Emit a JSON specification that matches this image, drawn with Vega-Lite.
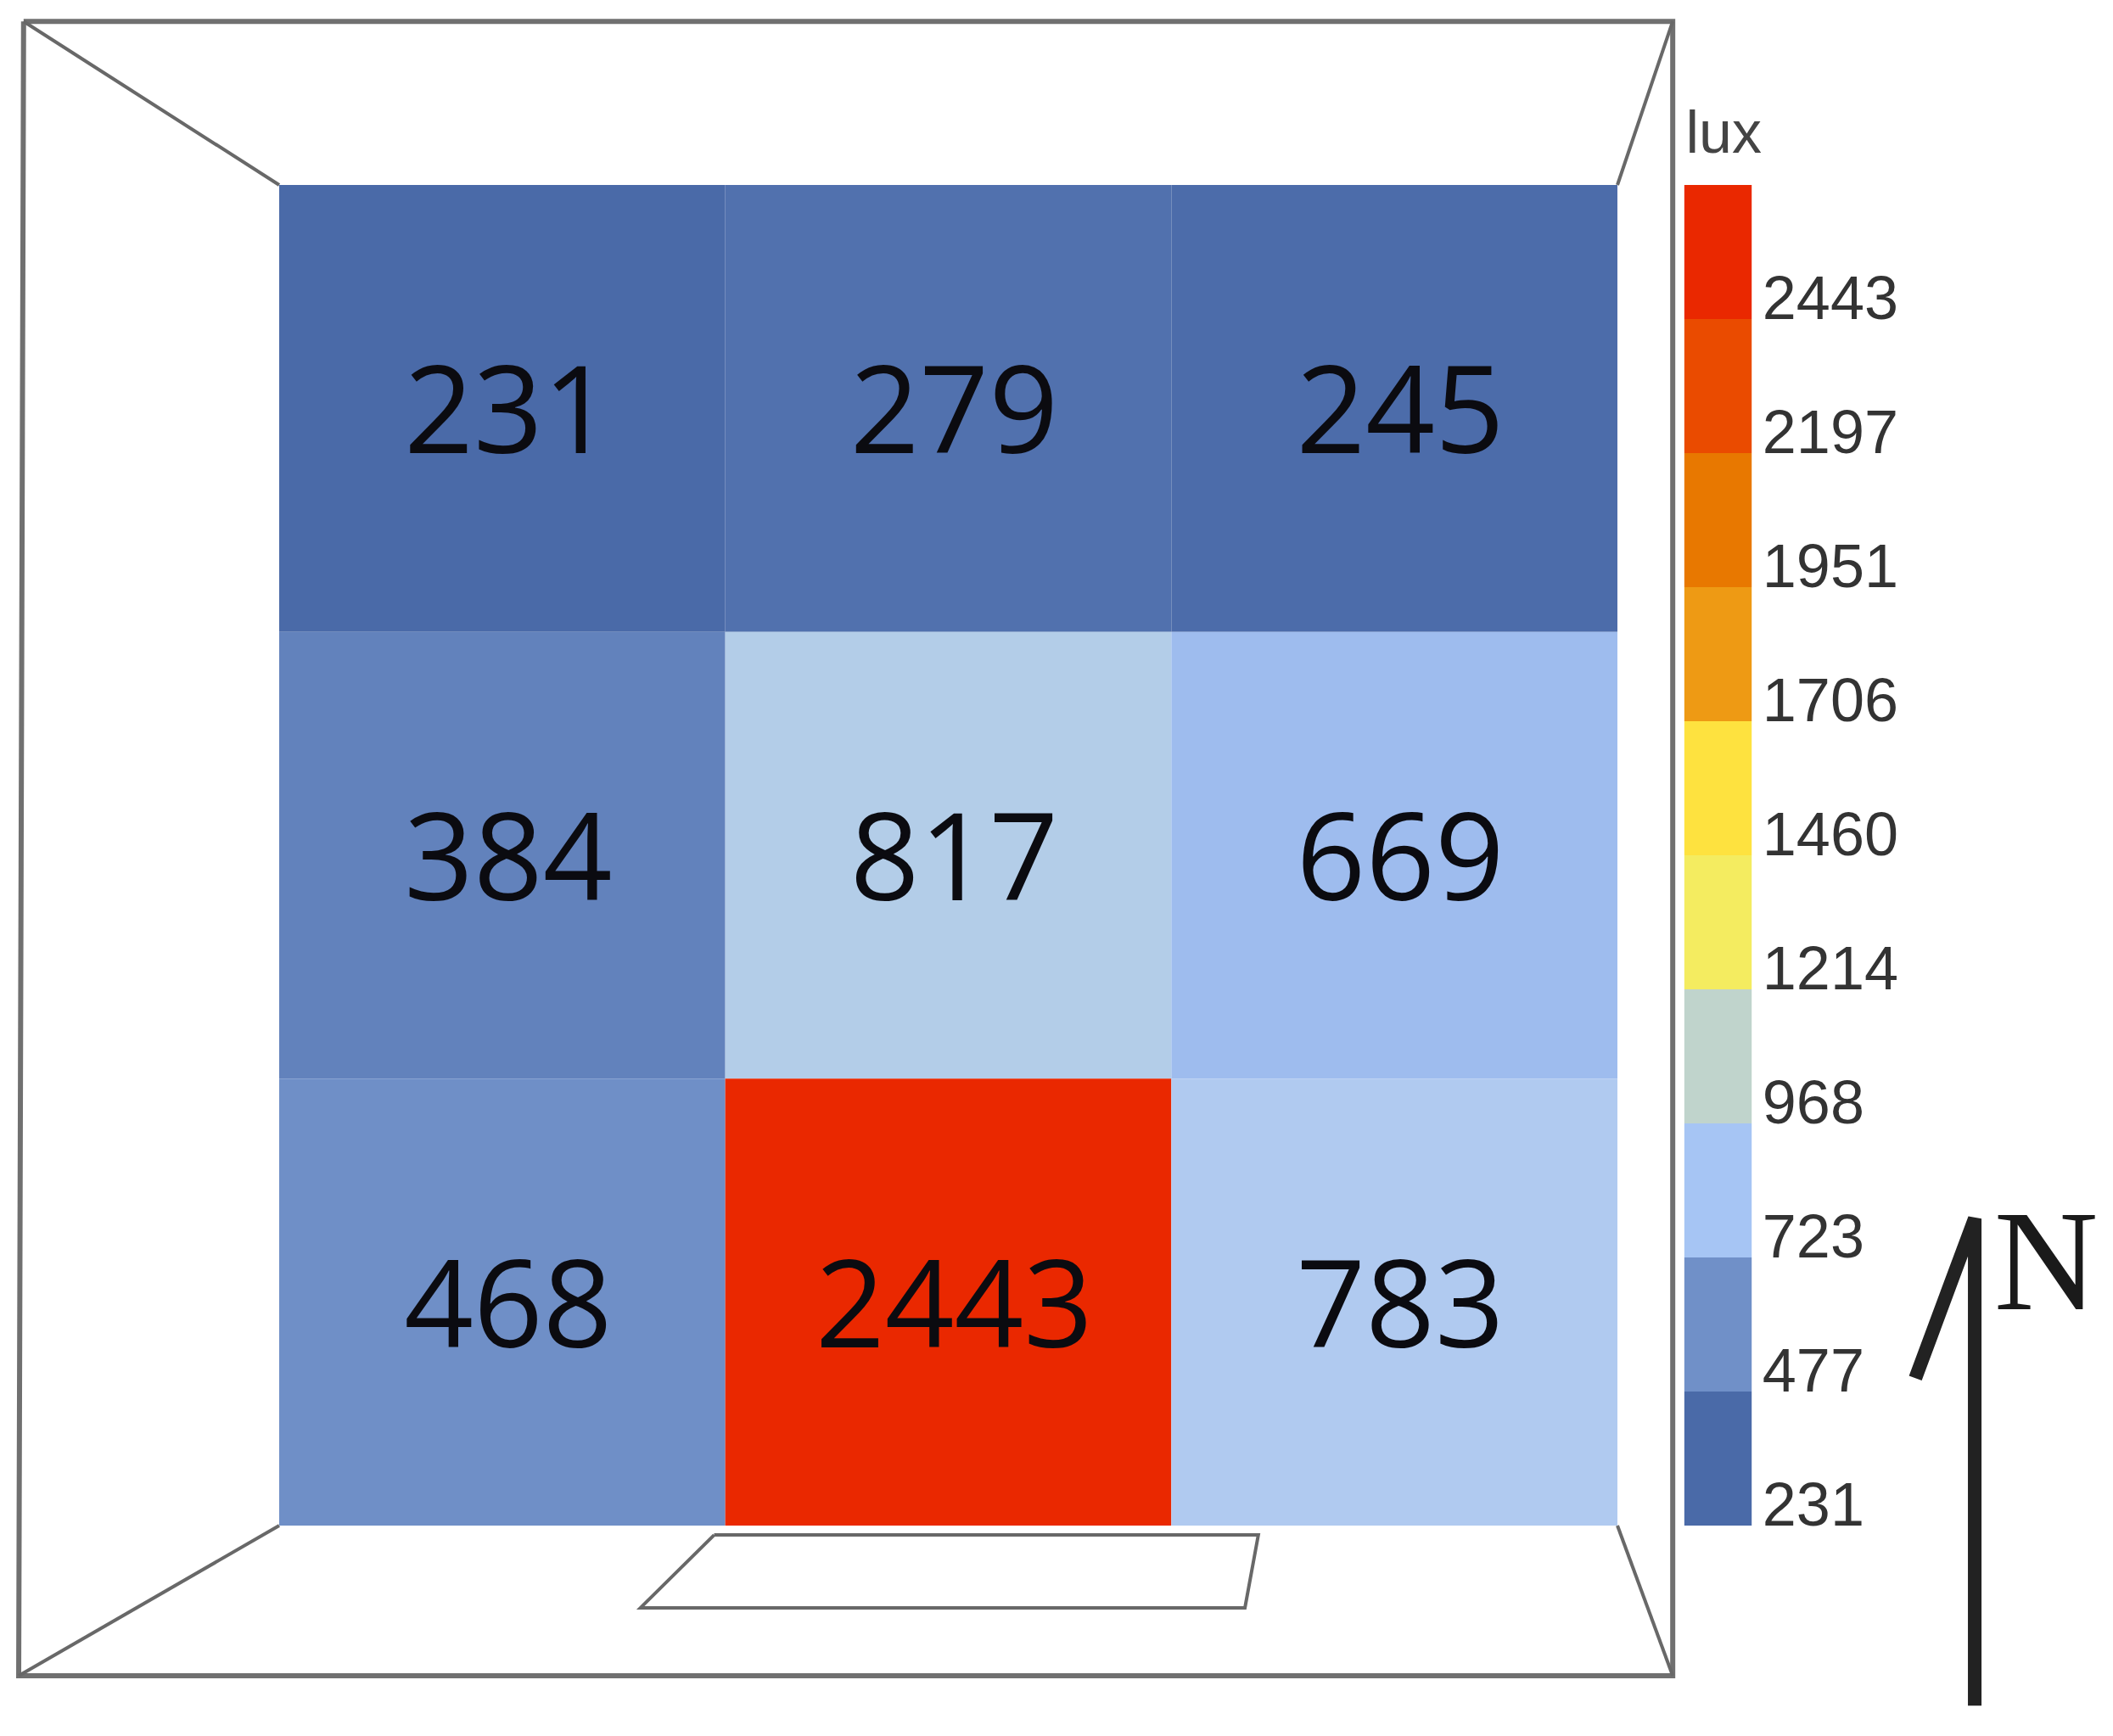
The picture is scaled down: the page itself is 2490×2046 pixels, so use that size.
{"$schema":"https://vega.github.io/schema/vega-lite/v6.json","width":2490,"height":2046,"padding":0,"autosize":{"type":"fit","contains":"padding"},"background":"white","view":{"stroke":null},
"datasets":{
"cells":[{"col":0,"col_end":1,"col_mid":0.5,"row":2,"row_end":3,"row_mid":2.5,"lux":231},{"col":1,"col_end":2,"col_mid":1.5,"row":2,"row_end":3,"row_mid":2.5,"lux":279},{"col":2,"col_end":3,"col_mid":2.5,"row":2,"row_end":3,"row_mid":2.5,"lux":245},{"col":0,"col_end":1,"col_mid":0.5,"row":1,"row_end":2,"row_mid":1.5,"lux":384},{"col":1,"col_end":2,"col_mid":1.5,"row":1,"row_end":2,"row_mid":1.5,"lux":817},{"col":2,"col_end":3,"col_mid":2.5,"row":1,"row_end":2,"row_mid":1.5,"lux":669},{"col":0,"col_end":1,"col_mid":0.5,"row":0,"row_end":1,"row_mid":0.5,"lux":468},{"col":1,"col_end":2,"col_mid":1.5,"row":0,"row_end":1,"row_mid":0.5,"lux":2443},{"col":2,"col_end":3,"col_mid":2.5,"row":0,"row_end":1,"row_mid":0.5,"lux":783}],
"legend":[{"lux":231,"lo":0,"hi":0.3,"a":3.15,"b":3.301,"t":3.325},{"lux":477,"lo":0.3,"hi":0.6,"a":3.15,"b":3.301,"t":3.325},{"lux":723,"lo":0.6,"hi":0.9,"a":3.15,"b":3.301,"t":3.325},{"lux":968,"lo":0.9,"hi":1.2,"a":3.15,"b":3.301,"t":3.325},{"lux":1214,"lo":1.2,"hi":1.5,"a":3.15,"b":3.301,"t":3.325},{"lux":1460,"lo":1.5,"hi":1.8,"a":3.15,"b":3.301,"t":3.325},{"lux":1706,"lo":1.8,"hi":2.1,"a":3.15,"b":3.301,"t":3.325},{"lux":1951,"lo":2.1,"hi":2.4,"a":3.15,"b":3.301,"t":3.325},{"lux":2197,"lo":2.4,"hi":2.7,"a":3.15,"b":3.301,"t":3.325},{"lux":2443,"lo":2.7,"hi":3.0,"a":3.15,"b":3.301,"t":3.325}],
"room":[{"p":"box","i":0,"x":-0.573,"y":3.366},{"p":"box","i":1,"x":3.124,"y":3.366},{"p":"box","i":2,"x":3.124,"y":-0.336},{"p":"box","i":3,"x":-0.584,"y":-0.336},{"p":"box","i":4,"x":-0.573,"y":3.366}],
"thin":[{"p":"tl","i":0,"x":-0.573,"y":3.366},{"p":"tl","i":1,"x":0,"y":3},{"p":"tr","i":0,"x":3.124,"y":3.366},{"p":"tr","i":1,"x":3,"y":3},{"p":"br","i":0,"x":3.124,"y":-0.336},{"p":"br","i":1,"x":3,"y":0},{"p":"bl","i":0,"x":-0.584,"y":-0.336},{"p":"bl","i":1,"x":0,"y":0},{"p":"window","i":0,"x":0.975,"y":-0.021},{"p":"window","i":1,"x":2.195,"y":-0.021},{"p":"window","i":2,"x":2.165,"y":-0.184},{"p":"window","i":3,"x":0.81,"y":-0.184},{"p":"window","i":4,"x":0.975,"y":-0.021}],
"arrow":[{"p":"north","i":0,"x":3.801,"y":-0.403},{"p":"north","i":1,"x":3.801,"y":0.687},{"p":"north","i":2,"x":3.668,"y":0.33}]
},
"layer":[
{"data":{"name":"cells"},"mark":{"type":"rect"},"encoding":{
"x":{"field":"col","type":"quantitative","scale":{"domain":[-0.6259,4.111],"nice":false,"zero":false},"axis":null},
"x2":{"field":"col_end"},
"y":{"field":"row","type":"quantitative","scale":{"domain":[-0.4709,3.4139],"nice":false,"zero":false},"axis":null},
"y2":{"field":"row_end"},
"color":{"field":"lux","type":"quantitative","legend":null,"scale":{"domain":[231,477,669,723,783,817,968,1214,1460,1706,1951,2197,2443],"range":["#4a6aa8","#7090c8","#9ebcee","#a6c5f4","#b0caf0","#b3cde8","#c0d4cc","#f4ec60","#fee23f","#ee9a14","#e87800","#ea4b00","#ea2800"],"interpolate":"rgb"}}}},
{"data":{"name":"legend"},"mark":{"type":"rect"},"encoding":{"x":{"field":"a","type":"quantitative"},"x2":{"field":"b"},"y":{"field":"lo","type":"quantitative"},"y2":{"field":"hi"},"color":{"field":"lux","type":"quantitative","legend":null}}},
{"data":{"name":"room"},"mark":{"type":"line","stroke":"#707070","strokeWidth":6,"strokeJoin":"miter","interpolate":"linear"},"encoding":{"x":{"field":"x","type":"quantitative"},"y":{"field":"y","type":"quantitative"},"detail":{"field":"p"},"order":{"field":"i"}}},
{"data":{"name":"thin"},"mark":{"type":"line","stroke":"#686868","strokeWidth":4,"strokeJoin":"miter"},"encoding":{"x":{"field":"x","type":"quantitative"},"y":{"field":"y","type":"quantitative"},"detail":{"field":"p"},"order":{"field":"i"}}},
{"data":{"name":"arrow"},"mark":{"type":"line","stroke":"#222222","strokeWidth":16,"strokeJoin":"miter"},"encoding":{"x":{"field":"x","type":"quantitative"},"y":{"field":"y","type":"quantitative"},"detail":{"field":"p"},"order":{"field":"i"}}},
{"data":{"name":"cells"},"mark":{"type":"text","font":"Open Sans","fontSize":143,"fill":"#0b0b10","align":"center","baseline":"middle","dx":7,"dy":10},"encoding":{"x":{"field":"col_mid","type":"quantitative"},"y":{"field":"row_mid","type":"quantitative"},"text":{"field":"lux","type":"nominal"}}},
{"data":{"name":"legend"},"mark":{"type":"text","font":"Liberation Sans","fontSize":72,"fill":"#333333","align":"left","baseline":"alphabetic"},"encoding":{"x":{"field":"t","type":"quantitative"},"y":{"field":"lo","type":"quantitative"},"text":{"field":"lux","type":"nominal"}}},
{"data":{"values":[{"label":"lux","x":3.153,"y":3.073}]},"mark":{"type":"text","font":"Liberation Sans","fontSize":70,"fill":"#444444","align":"left","baseline":"alphabetic"},"encoding":{"x":{"field":"x","type":"quantitative"},"y":{"field":"y","type":"quantitative"},"text":{"field":"label","type":"nominal"}}},
{"data":{"values":[{"label":"N","x":3.961,"y":0.484}]},"mark":{"type":"text","font":"Liberation Serif","fontSize":170,"fill":"#1a1a1a","align":"center","baseline":"alphabetic"},"encoding":{"x":{"field":"x","type":"quantitative"},"y":{"field":"y","type":"quantitative"},"text":{"field":"label","type":"nominal"}}}
]}
